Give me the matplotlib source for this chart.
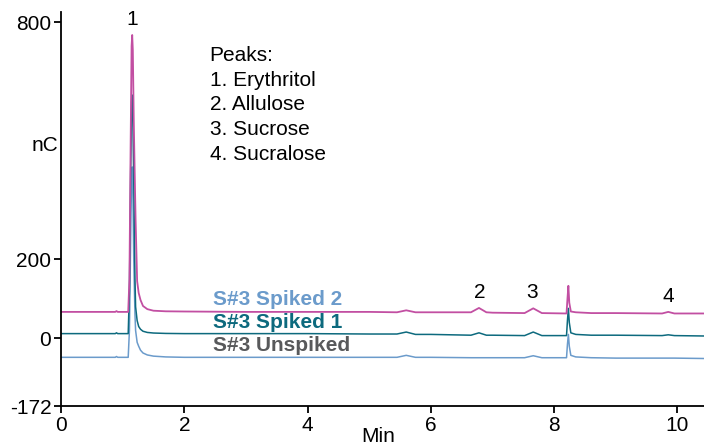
import matplotlib.pyplot as plt

plt.rcParams['font.family'] = ['Liberation Sans', 'DejaVu Sans']
plt.rcParams['axes.unicode_minus'] = False

# retention times (min) shared by the three traces
times = [0, 0.88, 0.90, 0.92, 1.09, 1.11, 1.13, 1.145, 1.155, 1.165,
         1.18, 1.20, 1.21, 1.235, 1.26, 1.29, 1.33, 1.40, 1.50, 1.70,
         2.0, 3.0, 4.0, 5.0, 5.45, 5.6, 5.75, 6.0, 6.65, 6.78,
         6.9, 7.0, 7.52, 7.66, 7.8, 8.2, 8.215, 8.23, 8.245, 8.27,
         8.35, 8.6, 9.0, 9.75, 9.85, 9.95, 10.43]

# detector response (nC)
spiked2 = [67, 67, 69, 67, 67, 150, 500, 740, 768, 730,
           552, 380, 300, 145, 115, 97, 82, 74, 70, 68.5,
           68, 67, 67, 67, 66, 71, 66, 66, 66, 77,
           66, 65, 64, 76, 64, 63, 100, 133, 90, 68,
           66, 64, 64, 63, 67, 63, 63]
spiked1 = [12, 12, 14, 12, 12, 120, 420, 600, 616, 560,
           400, 150, 80, 45, 30, 23, 18, 15, 13.5, 12.5,
           12, 12, 12, 11, 11, 16, 10, 10, 8, 14,
           8, 8, 7, 16, 7, 7, 45, 76, 40, 14,
           10, 8, 8, 7, 9, 7, 6]
unspiked = [-48, -48, -46, -48, -48, 20, 250, 410, 434, 380,
            200, 60, 20, -10, -20, -30, -37, -42, -45, -47,
            -48, -48, -48, -48, -48, -43, -48, -48, -49, -49,
            -49, -49, -49, -44, -49, -49, -15, 10, -20, -43,
            -47, -49, -50, -50, -50, -50, -51]

peak_names = ['Erythritol', 'Allulose', 'Sucrose', 'Sucralose']
peak_times = [1.15, 6.8, 7.64, 9.85]
peak_label_y = [806, 115, 117, 107]

series_labels = ['S#3 Spiked 2', 'S#3 Spiked 1', 'S#3 Unspiked']
series_label_y = [99, 41, -17]

fs = 15

fig = plt.figure(figsize=(7.04, 4.47), dpi=100)
ax = fig.add_axes([61 / 704, 1 - 406.3 / 447, 643 / 704, 394.6 / 447])

ax.plot(times, unspiked, color='#6b9bcb', lw=1.1)
ax.plot(times, spiked1, color='#0d6a7e', lw=1.1)
ax.plot(times, spiked2, color='#c24fa2', lw=1.3)

ax.set_xlim(0, 10.43)
ax.set_ylim(-172, 827)
ax.set_xticks([0, 2, 4, 6, 8, 10])
ax.set_yticks([-172, 0, 200, 800])
ax.spines['top'].set_visible(False)
ax.spines['right'].set_visible(False)
for s in ['left', 'bottom']:
    ax.spines[s].set_linewidth(1.3)
ax.tick_params(direction='out', length=5, width=1.3, labelsize=fs, pad=2)

ax.text(-0.025, 0.662, 'nC', transform=ax.transAxes, ha='center', va='center', fontsize=fs)
fig.text(378 / 704, 0.002, 'Min', ha='center', va='bottom', fontsize=fs)

for i, t in enumerate(peak_times):
    ax.text(t, peak_label_y[i], str(i + 1), ha='center', va='center', fontsize=fs)

ax.text(2.41, 717, 'Peaks:', ha='left', va='center', fontsize=fs)
for i, name in enumerate(peak_names):
    ax.text(2.41, 717 - 63 * (i + 1), f'{i + 1}. {name}', ha='left', va='center', fontsize=fs)

label_colors = ['#6b9bcb', '#0d6a7e', '#58595b']
for lbl, y, c in zip(series_labels, series_label_y, label_colors):
    ax.text(2.46, y, lbl, ha='left', va='center', fontsize=fs, fontweight='bold', color=c)

fig.savefig('out.png', dpi=100)
